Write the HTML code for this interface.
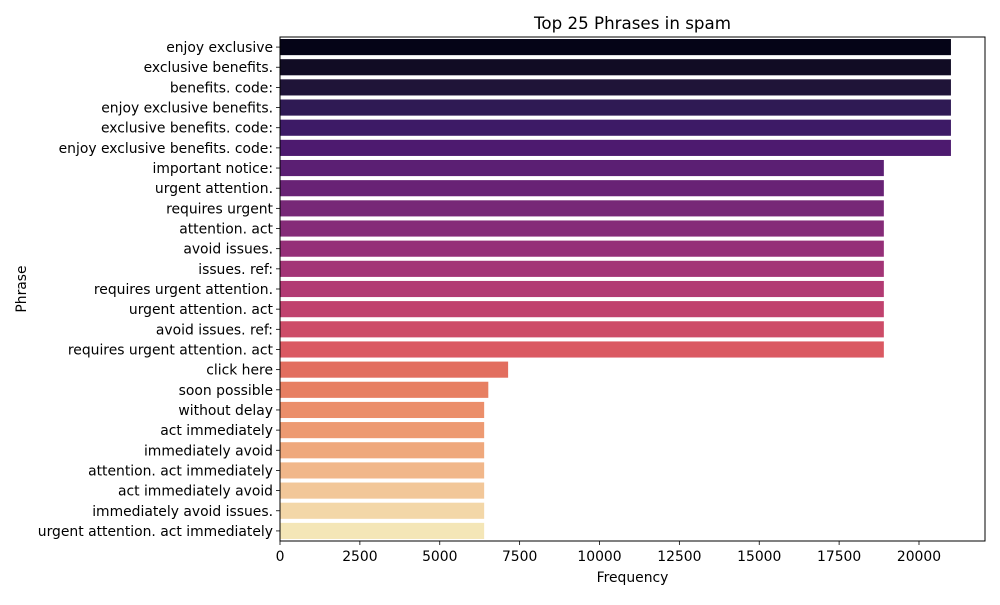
<!DOCTYPE html>
<html><head><meta charset="utf-8"><style>
body{margin:0;background:#fff;font-family:"Liberation Sans","DejaVu Sans",sans-serif;}
svg text{font-family:"DejaVu Sans","Liberation Sans",sans-serif;}
</style></head><body>
<svg id="chart" width="1000" height="600" xmlns="http://www.w3.org/2000/svg"></svg>
<script>
const categories=["enjoy exclusive","exclusive benefits.","benefits. code:","enjoy exclusive benefits.","exclusive benefits. code:","enjoy exclusive benefits. code:","important notice:","urgent attention.","requires urgent","attention. act","avoid issues.","issues. ref:","requires urgent attention.","urgent attention. act","avoid issues. ref:","requires urgent attention. act","click here","soon possible","without delay","act immediately","immediately avoid","attention. act immediately","act immediately avoid","immediately avoid issues.","urgent attention. act immediately"];
const values=[21000,21000,21000,21000,21000,21000,18900,18900,18900,18900,18900,18900,18900,18900,18900,18900,7140,6520,6390,6390,6390,6390,6390,6390,6390];
const xTicks=[0,2500,5000,7500,10000,12500,15000,17500,20000];
const colors=["#050417","#110c24","#1f1438","#2f1a54","#3d1a66","#4d1a6f","#5b1f73","#682275","#772877","#852b78","#952f78","#a33476","#b23a73","#c0426e","#cd4c68","#da5962","#e26e5f","#e77f62","#eb8e6a","#ed9a72","#efa87c","#f1b78a","#f2c799","#f3d7a8","#f4e6b7"];
const svg=document.getElementById('chart');const NS='http://www.w3.org/2000/svg';
const L=280,R=985,T=37,B=541,xMax=22066;
const FS=13.9;
const x=v=>L+v/xMax*(R-L);const band=(B-T)/categories.length;
function mk(t,a,p){const e=document.createElementNS(NS,t);for(const k in a)e.setAttribute(k,a[k]);(p||svg).appendChild(e);return e;}
const title=mk('text',{x:(L+R)/2,y:29,'text-anchor':'middle','font-size':16.7,fill:'#000'});title.textContent='Top 25 Phrases in spam';


categories.forEach((c,i)=>{const y=T+i*band;
const r=mk('rect',{x:L,y:y+band*0.1,width:x(values[i])-L,height:band*0.8,fill:colors[i]});


mk('line',{x1:L-4,x2:L,y1:y+band/2,y2:y+band/2,stroke:'#000','stroke-width':0.8});
const t=mk('text',{x:L-7,y:y+band/2+5,'text-anchor':'end','font-size':FS,fill:'#000'});t.textContent=c;

});
xTicks.forEach(v=>{mk('line',{x1:x(v),x2:x(v),y1:B,y2:B+4,stroke:'#000','stroke-width':0.8});
const t=mk('text',{x:x(v),y:B+20,'text-anchor':'middle','font-size':FS,fill:'#000'});t.textContent=v;

});
const fr=mk('rect',{x:L,y:T,width:R-L,height:B-T,fill:'none',stroke:'#000','stroke-width':1});


const xl=mk('text',{x:(L+R)/2,y:582,'text-anchor':'middle','font-size':FS,fill:'#000'});xl.textContent='Frequency';


const yl=mk('text',{x:0,y:0,'text-anchor':'middle','font-size':FS,fill:'#000',transform:'translate(26,'+((T+B)/2)+') rotate(-90)'});yl.textContent='Phrase';


</script></body></html>
